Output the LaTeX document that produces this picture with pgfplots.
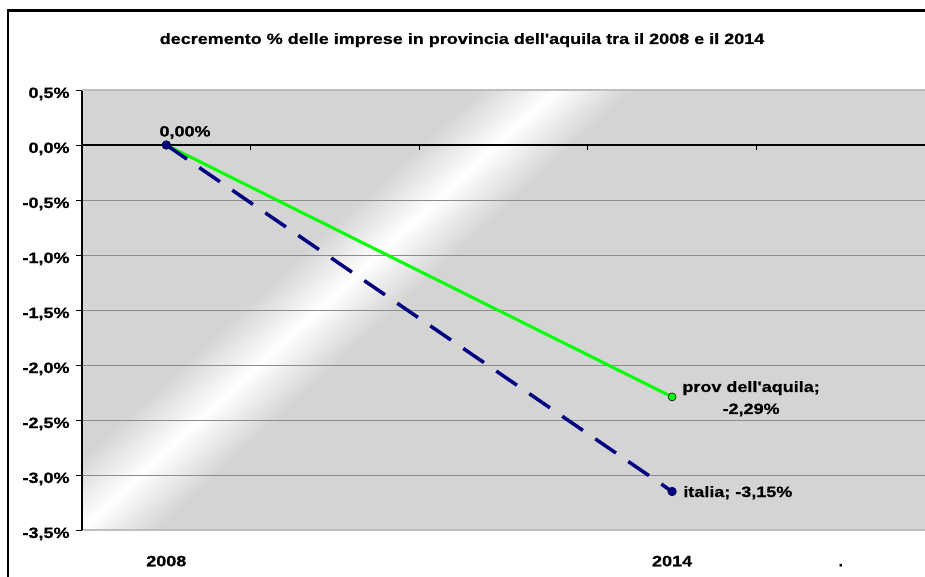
\documentclass[border=0pt]{standalone}
\usepackage{pgfplots}
\pgfplotsset{compat=1.18}
\usepackage{graphicx}
\usepackage{fontspec}
\setmainfont{Liberation Sans}[BoldFeatures={FakeBold=0.7}]
\definecolor{bgc}{RGB}{212,212,212}
\definecolor{navyc}{RGB}{0,0,128}
\definecolor{greenc}{RGB}{0,255,0}
\definecolor{gridc}{RGB}{140,140,140}
\definecolor{borderc}{RGB}{190,190,190}
\newcommand{\sx}[1]{\scalebox{1.2}[1]{#1}}
\newcommand{\ff}{\fontsize{15}{22}\selectfont\bfseries}
\begin{document}
\begin{tikzpicture}
\path[use as bounding box] (0pt,0pt) rectangle (925pt,576pt);
% plot area background with diagonal light stripe
\begin{scope}
\clip (82pt,46pt) rectangle (925pt,486pt);
\fill[bgc] (82pt,46pt) rectangle (925pt,486pt);
\begin{scope}[transform canvas={shift={(318pt,266pt)}, rotate=42.8}]
\shade[top color=bgc, bottom color=bgc, middle color=white] (-700pt,-52pt) rectangle (700pt,52pt);
\end{scope}
\end{scope}
% outer frame
\draw[line width=2.5pt] (7.8pt,-5pt) -- (7.8pt,565.5pt) -- (935pt,565.5pt);
% title
\node[font=\ff, anchor=base] at (462pt,532pt) {\sx{decremento \% delle imprese in provincia dell\textquotesingle aquila tra il 2008 e il 2014}};
\begin{axis}[
  at={(82pt,46pt)}, anchor=south west, scale only axis,
  width=843pt, height=440pt,
  xmin=-0.5, xmax=4.5, ymin=-3.5, ymax=0.5, clip=false,
  axis lines*=left,
  x axis line style={draw=borderc, line width=1.5pt},
  y axis line style={draw=black, line width=1.2pt},
  tick align=outside,
  xtick={0,3,4}, xticklabels={\sx{2008},\sx{2014},.},
  xtick style={draw=none, /pgfplots/major tick length=0pt},
  xticklabel style={font=\ff, anchor=base, inner sep=0pt, yshift=-32pt},
  ytick={-3.5,-3,-2.5,-2,-1.5,-1,-0.5,0,0.5},
  yticklabels={\sx{-3,5\%},\sx{-3,0\%},\sx{-2,5\%},\sx{-2,0\%},\sx{-1,5\%},\sx{-1,0\%},\sx{-0,5\%},\sx{0,0\%},\sx{0,5\%}},
  ytick style={draw=black, line width=0.8pt, /pgfplots/major tick length=6pt},
  yticklabel style={font=\ff, anchor=base east, inner sep=0pt, xshift=-8pt, yshift=-8pt},
  ymajorgrids, major grid style={draw=gridc, line width=0.8pt},
]
\draw[borderc, line width=1.5pt] (axis cs:-0.5,0.5) -- (axis cs:4.5,0.5);
\draw[black, line width=1.3pt] (axis cs:-0.5,0) -- (axis cs:4.5,0);
\pgfplotsinvokeforeach{0.5,1.5,2.5,3.5,4.5}{\draw[black, line width=1pt] (axis cs:#1,0) -- ++(0pt,-5pt);}
\addplot[greenc, line width=3pt, mark=*, mark size=4pt, mark options={fill=greenc, draw=black, line width=0.6pt}] coordinates {(0,0) (3,-2.29)};
\addplot[navyc, line width=3.5pt, dash pattern=on 25pt off 15pt, mark=*, mark size=4.3pt, mark options={solid, fill=navyc, draw=navyc!50!black, line width=0.6pt}] coordinates {(0,0) (3,-3.15)};
\node[font=\ff, anchor=base west, inner sep=0pt] at ([xshift=-7pt,yshift=8.5pt]axis cs:0,0) {\sx{0,00\%}};
\node[font=\ff, anchor=base west, inner sep=0pt] at ([xshift=11pt,yshift=-5.5pt]axis cs:3,-3.15) {\sx{italia; -3,15\%}};
\node[font=\ff, anchor=north, inner sep=0pt, align=center] at ([xshift=79pt,yshift=16pt]axis cs:3,-2.29) {\sx{prov dell\textquotesingle aquila;}\\\sx{-2,29\%}};
\end{axis}
\end{tikzpicture}
\end{document}
